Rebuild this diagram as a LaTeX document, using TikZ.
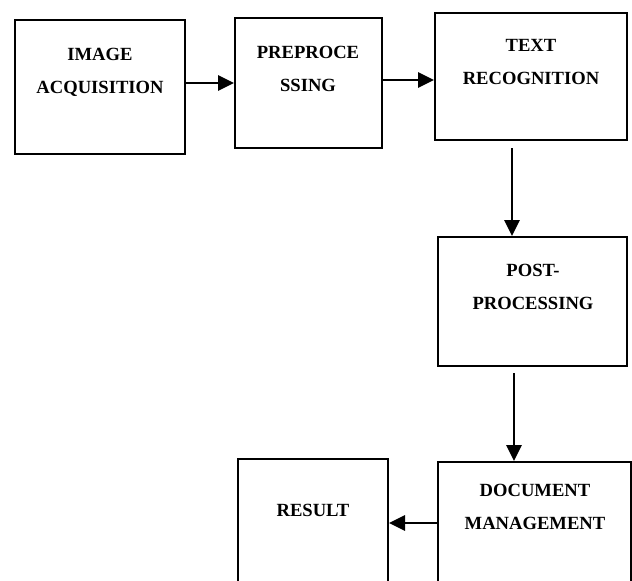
\documentclass[tikz,border=0pt]{standalone}
\usepackage{fontspec}
\setmainfont{Liberation Serif}
\usetikzlibrary{arrows.meta}
\begin{document}
\begin{tikzpicture}[x=1pt,y=-1pt]
    \tikzstyle{bx} = [draw=black,line width=2pt,inner sep=0pt] %box
    \tikzstyle{tx} = [align=center,font=\fontsize{18.6}{33}\selectfont\bfseries] %label
    \tikzstyle{ar} = [-{Triangle[length=16pt,width=15pt]},line width=2.8pt] %arrow
    \useasboundingbox (0,0) rectangle (632,581);
    \node[bx,minimum width=170,minimum height=134](b1)at(100,87){};
    \node[bx,minimum width=147,minimum height=130](b2)at(308.5,83){};
    \node[bx,minimum width=192,minimum height=127](b3)at(531,76.5){};
    \node[bx,minimum width=189,minimum height=129](b4)at(532.5,301.5){};
    \node[bx,minimum width=193,minimum height=140](b5)at(534.5,532){};
    \node[bx,minimum width=150,minimum height=142](b6)at(313,530){};
    \node[tx](t1)at(100,72){IMAGE\\ACQUISITION};
    \node[tx](t2)at(308,68.5){PREPROCE\\SSING};
    \node[tx](t3)at(531,61.5){TEXT\\RECOGNITION};
    \node[tx](t4)at(533,286.5){POST-\\PROCESSING};
    \node[tx](t5)at(535,507){DOCUMENT\\MANAGEMENT};
    \node[tx](t6)at(313,510){RESULT};
    \draw[ar](b1.east |- b2.west)--(b2.west);
    \draw[ar](b2.east)++(0,-3)coordinate(c2)--(c2 -| b3.west);
    \draw[ar](b3.south)++(-19,7)coordinate(c3)--(c3 |- b4.north);
    \draw[ar](b4.south)++(-18.5,6)coordinate(c4)--(c4 |- b5.north);
    \draw[ar](b5.west)++(0,-9)coordinate(c5)--(c5 -| b6.east);
  \end{tikzpicture}
\end{document}
